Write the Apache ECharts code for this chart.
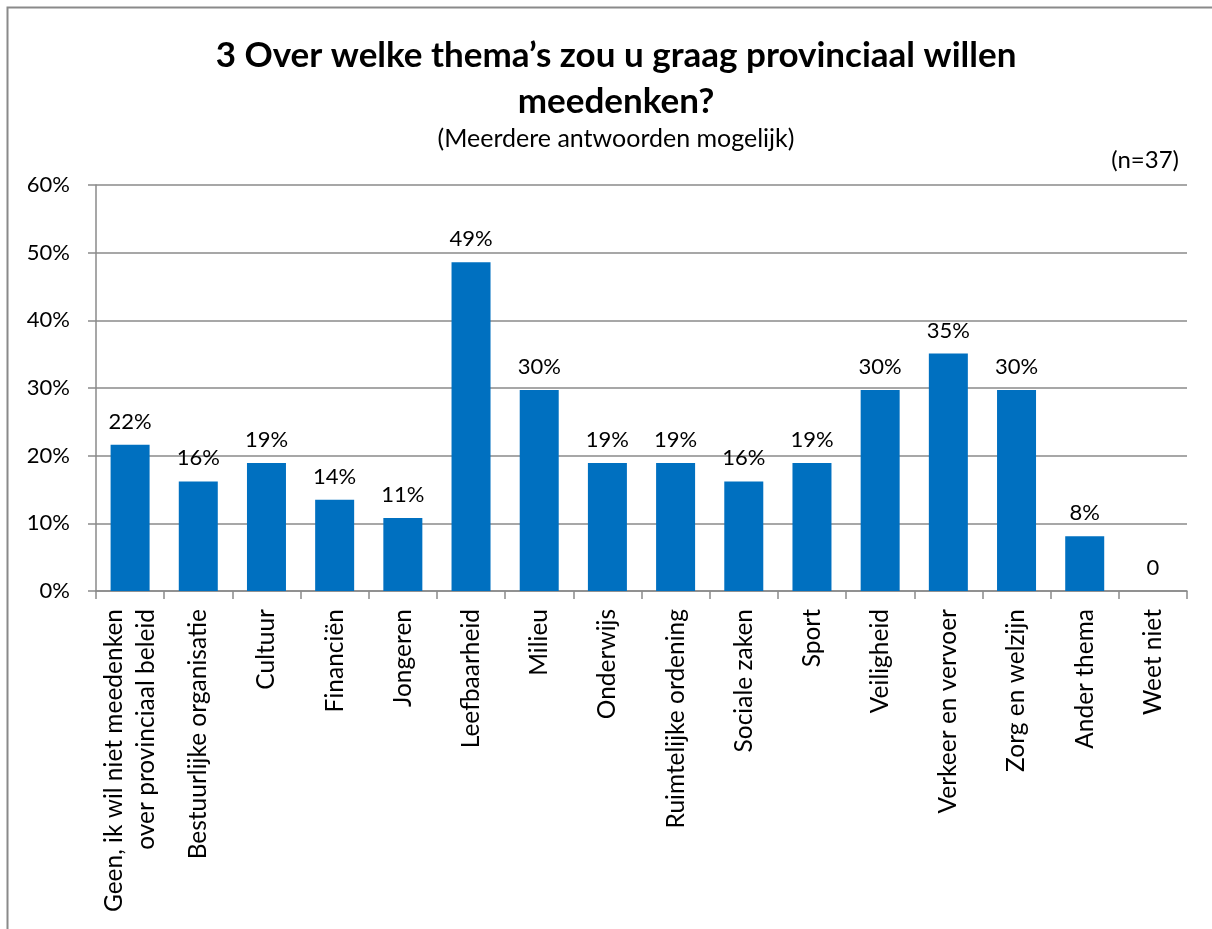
<!DOCTYPE html>
<html>
<head>
<meta charset="utf-8">
<script src="https://cdn.jsdelivr.net/npm/echarts@6/dist/echarts.min.js"></script>
<style>
    html, body { margin: 0; padding: 0; background: #fff; }
    #chart { width: 1212px; height: 929px; }
</style>
</head>
<body>
<div id="chart"></div>
<script>
// categorieen en percentages (n=37)
var categories = [
    'Geen, ik wil niet meedenken\nover provinciaal beleid',
    'Bestuurlijke organisatie',
    'Cultuur',
    'Financiën',
    'Jongeren',
    'Leefbaarheid',
    'Milieu',
    'Onderwijs',
    'Ruimtelijke ordening',
    'Sociale zaken',
    'Sport',
    'Veiligheid',
    'Verkeer en vervoer',
    'Zorg en welzijn',
    'Ander thema',
    'Weet niet'
];
var values = [21.6, 16.2, 18.9, 13.5, 10.8, 48.6, 29.7, 18.9, 18.9, 16.2, 18.9, 29.7, 35.1, 29.7, 8.1, 0];
var yTicks = ['0%', '10%', '20%', '30%', '40%', '50%', '60%'];

var fontName = 'Lato';
var gray = '#8a8a8a';

var myChart = echarts.init(document.getElementById('chart'));

var option = {
    animation: false,
    backgroundColor: '#fff',
    textStyle: { fontFamily: fontName, color: '#000' },
    title: [{
        text: '3 Over welke thema’s zou u graag provinciaal willen\nmeedenken?',
        left: 611,
        top: 28,
        textAlign: 'center',
        textStyle: {
            fontFamily: fontName,
            fontSize: 35,
            fontWeight: 'bold',
            color: '#000',
            lineHeight: 46
        }
    }, {
        text: '(Meerdere antwoorden mogelijk)',
        left: 611,
        top: 121,
        textAlign: 'center',
        textStyle: { fontFamily: fontName, fontSize: 25, fontWeight: 'normal', color: '#000', lineHeight: 25 }
    }, {
        text: '(n=37)',
        right: 28,
        top: 143,
        textStyle: { fontFamily: fontName, fontSize: 24, fontWeight: 'normal', color: '#000', lineHeight: 24 }
    }],
    graphic: [{
        type: 'rect',
        shape: { x: 7.5, y: 7.5, width: 1300, height: 1000 },
        style: { fill: 'none', stroke: gray, lineWidth: 2 },
        silent: true
    }],
    grid: {
        left: 96,
        right: 25,
        top: 185,
        bottom: 338,
        containLabel: false
    },
    xAxis: {
        type: 'category',
        data: categories,
        axisLine: { show: true, lineStyle: { color: gray, width: 1.5 } },
        axisTick: { show: true, length: 8, alignWithLabel: false, lineStyle: { color: gray, width: 1.5 } },
        axisLabel: {
            interval: 0,
            rotate: 90,
            margin: 18,
            fontFamily: fontName,
            fontSize: 24.5,
            color: '#000',
            lineHeight: 32
        }
    },
    yAxis: {
        type: 'value',
        min: 0,
        max: 60,
        interval: 10,
        axisLine: { show: true, lineStyle: { color: gray, width: 1.5 } },
        axisTick: { show: true, length: 8, lineStyle: { color: gray, width: 1.5 } },
        splitLine: { show: true, lineStyle: { color: gray, width: 1.5 } },
        axisLabel: {
            margin: 26,
            fontFamily: fontName,
            fontSize: 22,
            color: '#000',
            formatter: function(value) {
                return yTicks[Math.round(value / 10)];
            }
        }
    },
    series: [{
        type: 'bar',
        data: values,
        barWidth: 39,
        itemStyle: { color: '#0070C0' },
        label: {
            show: true,
            position: 'top',
            distance: 12,
            fontFamily: fontName,
            fontSize: 22,
            color: '#000',
            formatter: function(p) {
                if (p.value == 0) {
                    return '0';
                }
                return Math.round(p.value) + '%';
            }
        }
    }]
};
myChart.setOption(option);
</script>
</body>
</html>
